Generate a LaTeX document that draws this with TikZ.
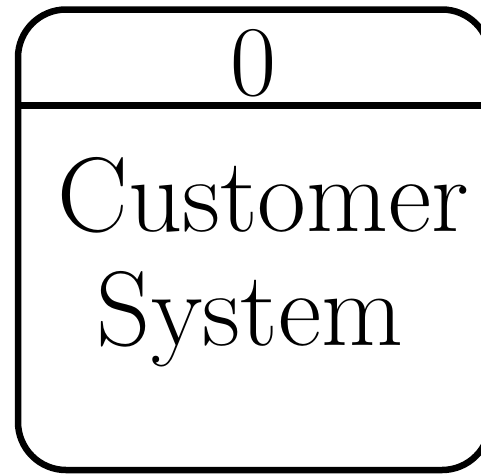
\documentclass[tikz,border=0pt]{standalone}
\begin{document}
\begin{tikzpicture}[x=1pt,y=-1pt,
  edge/.style={draw=black, line width=6.5pt},
  bigtext/.style={anchor=base, inner sep=0pt, font=\rmfamily\fontsize{106}{106}\selectfont}]
\useasboundingbox (0,0) rectangle (481,474);
\fill[white] (0,0) rectangle (481,474);
\coordinate (tl) at (18,9.5);
\coordinate (br) at (490,470);
\coordinate (dl) at (18,105.5);
\coordinate (dr) at (490,105.5);
\begin{scope}
\clip (0,0) rectangle (481,474);
\draw[edge, rounded corners=48pt] (tl) rectangle (br);
\draw[edge] (dl) -- (dr);
\end{scope}
\node[bigtext, font=\rmfamily\fontsize{100}{100}\selectfont] (num) at (253,95) {0};
\node[bigtext] (l1) at (263,231) {Customer};
\node[bigtext] (l2) at (250,345) {System};
\end{tikzpicture}
\end{document}
